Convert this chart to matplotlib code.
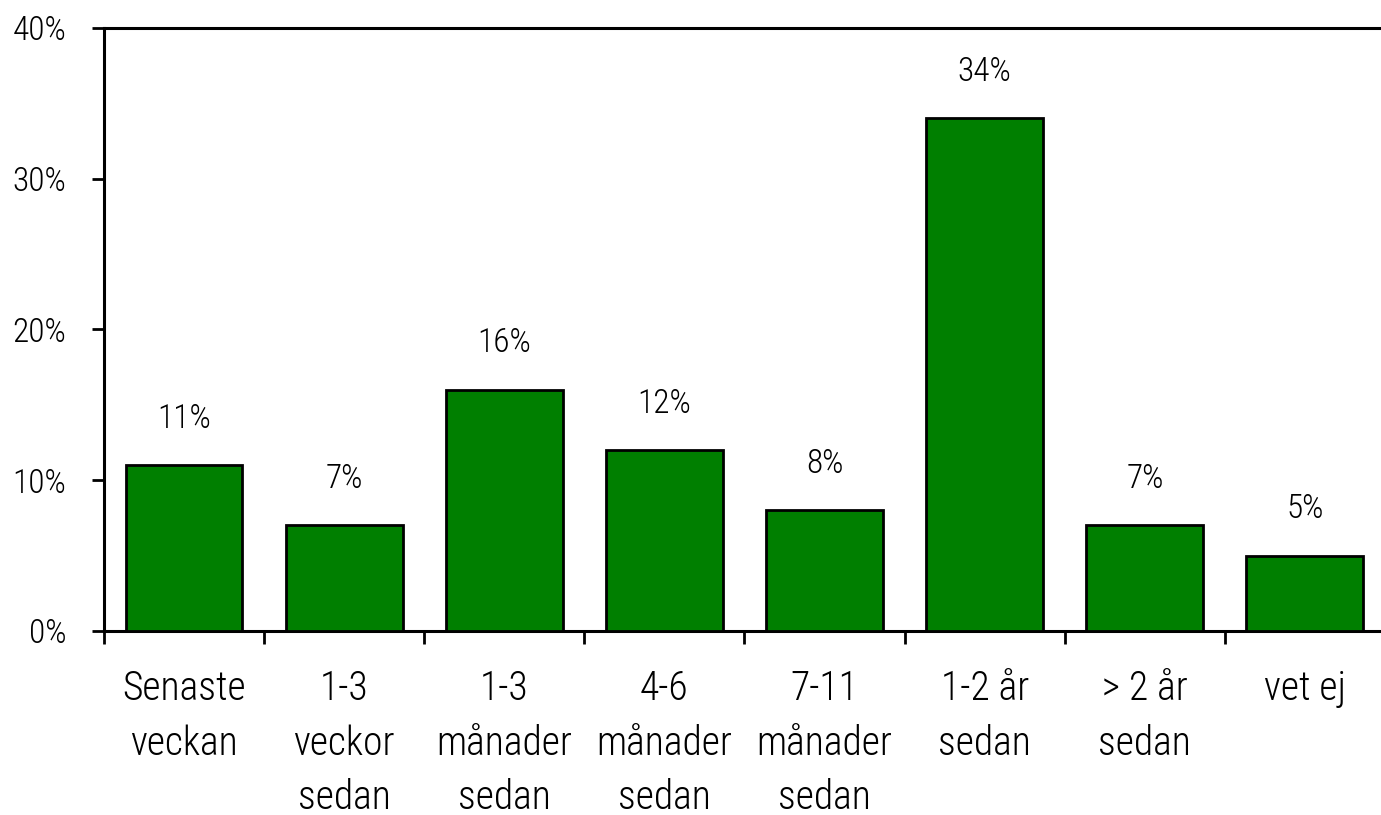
import matplotlib
matplotlib.use("Agg")
import matplotlib.pyplot as plt
from matplotlib import font_manager
from matplotlib.ticker import FuncFormatter

# narrow Arial-like face, take the first one installed
installed = {f.name for f in font_manager.fontManager.ttflist}
narrow = [n for n in ['Liberation Sans Narrow', 'Arial Narrow', 'Roboto Condensed',
                      'Archivo Narrow', 'PT Sans Narrow'] if n in installed]
plt.rcParams['font.family'] = narrow[:1] + ['Liberation Sans', 'DejaVu Sans']
plt.rcParams['font.weight'] = 'light'

categories = ["Senaste\nveckan", "1-3\nveckor\nsedan", "1-3\nmånader\nsedan",
              "4-6\nmånader\nsedan", "7-11\nmånader\nsedan", "1-2 år\nsedan",
              "> 2 år\nsedan", "vet ej"]
values = [11, 7, 16, 12, 8, 34, 7, 5]
y_ticks = [0, 10, 20, 30, 40]

fig = plt.figure(figsize=(13.81, 8.15), dpi=100)
ax = fig.add_axes([0.0753, 0.2258, 0.9276, 0.740])

x = list(range(len(values)))
ax.bar(x, values, width=0.73, color='#007F00', edgecolor='black', linewidth=2, zorder=3)

for xi, v in zip(x, values):
    ax.annotate(f"{v}%", (xi, v), xytext=(0, 27), textcoords='offset points',
                ha='center', va='baseline', fontsize=24)

ax.set_xlim(-0.5, len(values) - 0.5)
ax.set_ylim(0, 40)

ax.set_yticks(y_ticks)
ax.yaxis.set_major_formatter(FuncFormatter(lambda v, p: f"{int(v)}%"))
ax.tick_params(axis='y', direction='out', length=9, width=2, labelsize=24, pad=18)

# boundaries get tick marks, centers get labels
ax.set_xticks([i - 0.5 for i in range(len(values) + 1)])
ax.set_xticklabels([])
ax.set_xticks(x, minor=True)
ax.set_xticklabels(categories, minor=True, fontsize=28.5, linespacing=1.52)
ax.tick_params(axis='x', which='major', direction='out', length=9, width=2)
ax.tick_params(axis='x', which='minor', length=0, pad=28)

for s in ['left', 'bottom', 'top']:
    ax.spines[s].set_linewidth(2.2)
ax.spines['right'].set_visible(False)

fig.savefig("out.png", dpi=100)
